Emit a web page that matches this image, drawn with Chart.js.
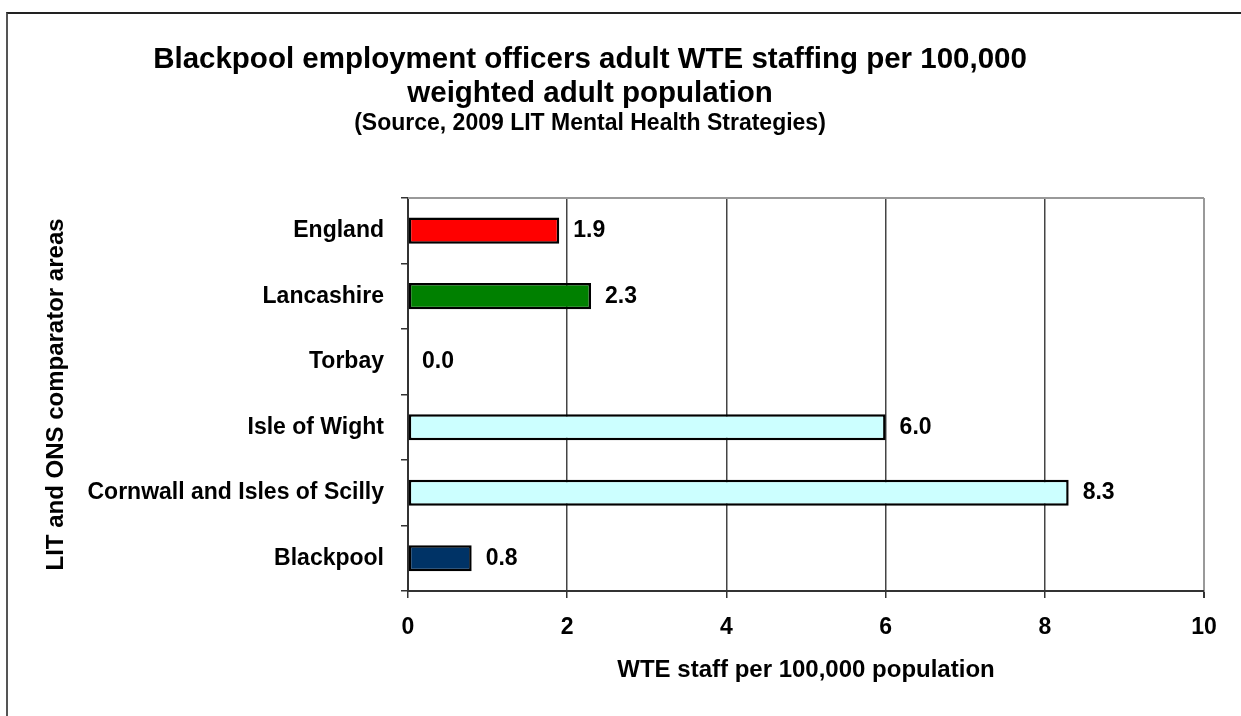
<!DOCTYPE html>
<html lang="en">
<head>
<meta charset="utf-8">
<title>Blackpool employment officers</title>
<script src="https://cdn.jsdelivr.net/npm/chart.js@4/dist/chart.umd.min.js"></script>
<style>
    html, body { margin: 0; padding: 0; background: #fff; overflow: hidden; }
    #frame {
        position: absolute; left: 6px; top: 12px; width: 1300px; height: 800px;
        border-top: 2px solid #222; border-left: 2px solid #555;
    }
    #chart { position: absolute; left: -24px; top: 0; }
</style>
</head>
<body>
<div id="frame"></div>
<canvas id="chart" width="1265" height="716"></canvas>
<script>
"use strict";

const areas = ["England", "Lancashire", "Torbay", "Isle of Wight", "Cornwall and Isles of Scilly", "Blackpool"];
const staffRates = [1.9, 2.3, 0.0, 6.0, 8.3, 0.8];
const barColours = ["#FF0000", "#008000", "#CCFFFF", "#CCFFFF", "#CCFFFF", "#003366"];
const xTicks = [0, 2, 4, 6, 8, 10];

const titleLines = ["Blackpool employment officers adult WTE staffing per 100,000", "weighted adult population"];
const sourceLine = "(Source, 2009 LIT Mental Health Strategies)";
const xTitle = "WTE staff per 100,000 population";
const yTitle = "LIT and ONS comparator areas";

const FONT = "'Liberation Sans', Arial, sans-serif";

function font(size, lineHeight) {
    return { family: FONT, size, weight: "bold", lineHeight: lineHeight || 1.2 };
}

// value labels to the right of every bar
const valueLabels = {
    id: "valueLabels",
    afterDatasetsDraw(chart) {
        const ctx = chart.ctx;
        const meta = chart.getDatasetMeta(0);
        ctx.save();
        ctx.font = "bold 23px " + FONT;
        ctx.fillStyle = "#000";
        ctx.textAlign = "left";
        ctx.textBaseline = "middle";
        meta.data.forEach((bar, i) => {
            ctx.fillText(staffRates[i].toFixed(1), bar.x + 14, bar.y);
        });
        ctx.restore();
    }
};

// grey top edge of the plot area
const plotFrame = {
    id: "plotFrame",
    beforeDatasetsDraw(chart) {
        const {ctx, chartArea} = chart;
        ctx.save();
        ctx.strokeStyle = "#999";
        ctx.lineWidth = 2;
        ctx.beginPath();
        ctx.moveTo(chartArea.left, chartArea.top);
        ctx.lineTo(chartArea.right, chartArea.top);
        ctx.stroke();
        ctx.restore();
    }
};

function getX() {
    return {
        type: "linear",
        min: 0,
        max: 10,
        afterBuildTicks(scale) {
            scale.ticks = xTicks.map(v => ({ value: v }));
        },
        afterFit(scale) {
            scale.height = 125;
        },
        grid: {
            color: c => (c.tick && c.tick.value === 10 ? "#999" : "#444"),
            lineWidth: c => (c.tick && c.tick.value === 10 ? 2 : 1.5),
            tickColor: "#333",
            tickLength: 7
        },
        border: { color: "#333", width: 2 },
        ticks: { color: "#000", font: font(23), padding: 16 },
        title: {
            display: true,
            text: xTitle,
            color: "#000",
            font: font(24),
            padding: { top: 0, bottom: 31.6 }
        }
    };
}

function getY() {
    return {
        type: "category",
        offset: true,
        afterFit(scale) {
            scale.width = 432;
        },
        grid: {
            offset: true,
            drawOnChartArea: false,
            tickColor: "#333",
            tickLength: 7,
            lineWidth: 1.5
        },
        border: { color: "#333", width: 2 },
        ticks: { color: "#000", font: font(23), padding: 17 },
        title: {
            display: true,
            text: yTitle,
            color: "#000",
            font: font(24),
            padding: { top: 65.6, bottom: 0 }
        }
    };
}

function buildChart() {
    const ctx = document.querySelector("#chart").getContext("2d");
    new Chart(ctx, {
        type: "bar",
        data: {
            labels: areas,
            datasets: [{
                data: staffRates,
                backgroundColor: barColours,
                borderColor: "#000",
                borderWidth: c => (c.raw === 0 ? 0 : 2.5),
                borderSkipped: false,
                barPercentage: 0.4,
                categoryPercentage: 1
            }]
        },
        options: {
            indexAxis: "y",
            responsive: false,
            animation: false,
            devicePixelRatio: 1,
            layout: { padding: { left: 0, right: 37, top: 0, bottom: 0 } },
            scales: { x: getX(), y: getY() },
            plugins: {
                legend: { display: false },
                tooltip: { enabled: false },
                title: {
                    display: true,
                    text: titleLines,
                    color: "#000",
                    font: font(29.5, 1.15),
                    padding: { top: 42.5, bottom: 0 }
                },
                subtitle: {
                    display: true,
                    text: sourceLine,
                    color: "#000",
                    font: font(23),
                    padding: { top: 0, bottom: 60 }
                }
            }
        },
        plugins: [plotFrame, valueLabels]
    });
}

buildChart();
</script>
</body>
</html>
